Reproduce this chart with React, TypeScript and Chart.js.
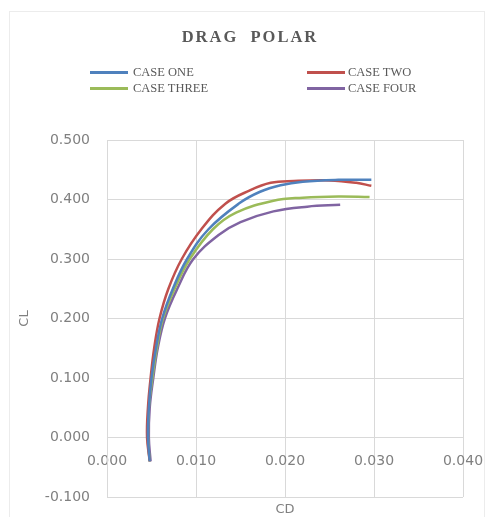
import React, { useEffect, useRef } from "react";
import { Chart, registerables } from "chart.js";

Chart.register(...registerables);

const seriesNames = ["CASE ONE", "CASE TWO", "CASE THREE", "CASE FOUR"];
const seriesColors = ["#4F81BD", "#C0504D", "#9BBB59", "#8064A2"];

const caseOneCD = [0.0048, 0.0046, 0.0047, 0.0050, 0.0055, 0.0062, 0.0074, 0.0090, 0.0114, 0.0149, 0.0172, 0.0195, 0.0220, 0.0260, 0.0297];
const caseOneCL = [-0.040, 0.000, 0.050, 0.100, 0.150, 0.200, 0.250, 0.300, 0.350, 0.394, 0.413, 0.424, 0.430, 0.433, 0.433];

const caseTwoCD = [0.0048, 0.0045, 0.0046, 0.0049, 0.0053, 0.0059, 0.0069, 0.0084, 0.0106, 0.0133, 0.0160, 0.0184, 0.0210, 0.0250, 0.0280, 0.0297];
const caseTwoCL = [-0.040, 0.000, 0.050, 0.100, 0.150, 0.200, 0.250, 0.300, 0.350, 0.393, 0.415, 0.428, 0.431, 0.432, 0.428, 0.423];

const caseThreeCD = [0.0048, 0.0046, 0.0047, 0.0051, 0.0056, 0.0063, 0.0076, 0.0093, 0.0119, 0.0145, 0.0187, 0.0220, 0.0260, 0.0295];
const caseThreeCL = [-0.040, 0.000, 0.050, 0.100, 0.150, 0.200, 0.250, 0.300, 0.350, 0.378, 0.398, 0.403, 0.405, 0.404];

const caseFourCD = [0.0049, 0.0047, 0.0048, 0.0052, 0.0057, 0.0065, 0.0079, 0.0097, 0.0125, 0.0150, 0.0187, 0.0225, 0.0262];
const caseFourCL = [-0.040, 0.000, 0.050, 0.100, 0.150, 0.200, 0.250, 0.300, 0.340, 0.362, 0.380, 0.388, 0.391];

const xMin = 0;
const xMax = 0.04;
const xStep = 0.01;
const yMin = -0.1;
const yMax = 0.5;
const yStep = 0.1;

const allCD = [caseOneCD, caseTwoCD, caseThreeCD, caseFourCD];
const allCL = [caseOneCL, caseTwoCL, caseThreeCL, caseFourCL];

const tickFont = { family: "'DejaVu Sans', sans-serif", size: 14 };
const textGray = "#808080";
const gridGray = "#d9d9d9";

const fmt = (v: any) => {
  const n = Number(v);
  return (Math.abs(n) < 1e-9 ? 0 : n).toFixed(3);
};

export default function App() {
  const canvasRef = useRef<HTMLCanvasElement | null>(null);

  useEffect(() => {
    if (!canvasRef.current) return;
    const datasets = seriesNames.map((name, i) => ({
      label: name,
      data: allCD[i].map((x, k) => ({ x, y: allCL[i][k] })),
      borderColor: seriesColors[i],
      backgroundColor: seriesColors[i],
      borderWidth: 2.5,
      pointRadius: 0,
      showLine: true,
      tension: 0.4,
      fill: false,
    }));
    const chart = new Chart(canvasRef.current, {
      type: "scatter",
      data: { datasets },
      options: {
        animation: false,
        responsive: true,
        maintainAspectRatio: false,
        layout: { padding: { top: 132, right: 23, left: 0, bottom: 0 } },
        plugins: {
          legend: { display: false },
          title: { display: false },
          tooltip: { enabled: false },
        },
        scales: {
          x: {
            type: "linear",
            position: { y: 0 } as any,
            min: xMin,
            max: xMax,
            grid: { color: gridGray, drawTicks: true, tickLength: 15, tickColor: "rgba(0,0,0,0)" },
            border: { color: gridGray },
            ticks: {
              stepSize: xStep,
              padding: 0,
              color: textGray,
              font: tickFont,
              callback: fmt,
            },
          },
          x2: {
            type: "linear",
            position: "bottom",
            min: xMin,
            max: xMax,
            grid: { display: false },
            border: { display: false },
            ticks: { display: false },
            title: {
              display: true,
              text: "CD",
              color: textGray,
              font: { family: "'DejaVu Sans', sans-serif", size: 13 },
              padding: 0,
            },
            afterFit: (s: any) => {
              s.height = 20;
            },
          },
          y: {
            type: "linear",
            min: yMin,
            max: yMax,
            grid: { color: gridGray, drawTicks: true, tickLength: 17, tickColor: "rgba(0,0,0,0)" },
            border: { color: gridGray },
            ticks: {
              stepSize: yStep,
              padding: 0,
              color: textGray,
              font: tickFont,
              callback: fmt,
            },
            title: {
              display: true,
              text: "CL",
              color: textGray,
              font: { family: "'DejaVu Sans', sans-serif", size: 13 },
              padding: { top: 9, bottom: 0 },
            },
            afterFit: (s: any) => {
              s.width = 99;
            },
          },
        },
      },
    });
    return () => chart.destroy();
  }, []);

  const legendText: React.CSSProperties = {
    position: "absolute",
    fontFamily: "'Liberation Serif', 'Times New Roman', serif",
    fontSize: 12.5,
    color: "#595959",
    lineHeight: "14px",
    whiteSpace: "nowrap",
  };
  const legendPos = [
    { lx: 82, tx: 125, y: 63 },
    { lx: 299, tx: 340, y: 63 },
    { lx: 82, tx: 125, y: 79 },
    { lx: 299, tx: 340, y: 79 },
  ];

  return (
    <div style={{ position: "relative", width: 478, height: 509 }}>
      <div
        style={{
          position: "absolute",
          left: 1,
          top: 3,
          width: 476,
          height: 510,
          border: "1px solid #ececec",
          boxSizing: "border-box",
        }}
      />
      <canvas ref={canvasRef} />
      <div
        style={{
          position: "absolute",
          left: 0,
          width: 484,
          top: 19,
          textAlign: "center",
          fontFamily: "'Liberation Serif', 'Times New Roman', serif",
          fontWeight: "bold",
          fontSize: 16.5,
          letterSpacing: 2,
          color: "#595959",
          whiteSpace: "pre",
        }}
      >
        {"DRAG  POLAR"}
      </div>
      {seriesNames.map((name, i) => (
        <React.Fragment key={name}>
          <div
            style={{
              position: "absolute",
              left: legendPos[i].lx,
              top: legendPos[i].y,
              width: 38,
              height: 3,
              background: seriesColors[i],
            }}
          />
          <div style={{ ...legendText, left: legendPos[i].tx, top: legendPos[i].y - 6 }}>{name}</div>
        </React.Fragment>
      ))}
    </div>
  );
}
